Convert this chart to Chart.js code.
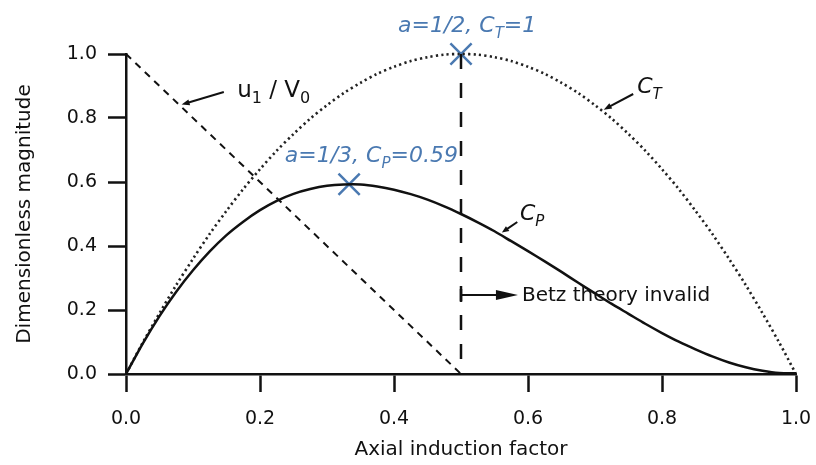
<!DOCTYPE html>
<html>
<head>
<meta charset="utf-8">
<script src="https://cdn.jsdelivr.net/npm/chart.js@4.4.1/dist/chart.umd.min.js"></script>
<style>
  html, body { margin: 0; background: #fff; }
</style>
</head>
<body>
<canvas id="chartBetz" width="816" height="465"></canvas>
<script>
// ── Datos ────────────────────────────────────────────────────
const factorA = [0, 0.025, 0.05, 0.075, 0.1, 0.125, 0.15, 0.175, 0.2, 0.225,
                 0.25, 0.275, 0.3, 0.325, 0.35, 0.375, 0.4, 0.425, 0.45, 0.475,
                 0.5, 0.525, 0.55, 0.575, 0.6, 0.625, 0.65, 0.675, 0.7, 0.725,
                 0.75, 0.775, 0.8, 0.825, 0.85, 0.875, 0.9, 0.925, 0.95, 0.975, 1.0];
const valoresCP = [0, 0.095, 0.181, 0.257, 0.324, 0.383, 0.434, 0.476, 0.512, 0.541,
                   0.563, 0.578, 0.588, 0.592, 0.592, 0.586, 0.576, 0.562, 0.545, 0.524,
                   0.5, 0.474, 0.446, 0.415, 0.384, 0.352, 0.319, 0.285, 0.252, 0.219,
                   0.188, 0.157, 0.128, 0.101, 0.077, 0.055, 0.036, 0.021, 0.01, 0.003, 0.002];
const valoresCT = [0, 0.098, 0.19, 0.278, 0.36, 0.438, 0.51, 0.578, 0.64, 0.698,
                   0.75, 0.798, 0.84, 0.878, 0.91, 0.938, 0.96, 0.978, 0.99, 0.998,
                   1.0, 0.998, 0.99, 0.978, 0.96, 0.938, 0.91, 0.878, 0.84, 0.798,
                   0.75, 0.698, 0.64, 0.578, 0.51, 0.438, 0.36, 0.278, 0.19, 0.098, 0];
const factorU1  = [0, 0.5];
const valoresU1 = [1.0, 0.0];
const limiteA   = [0.5, 0.5];
const limiteVal = [1.0, 0.02];
const marcasA   = [0.5, 0.333];
const marcasVal = [1.0, 0.593];
const ticksX = [0, 0.2, 0.4, 0.6, 0.8, 1.0];
const ticksY = [0, 0.2, 0.4, 0.6, 0.8, 1.0];

const AZUL = '#4a79b1';
const FUENTE = "'DejaVu Sans', sans-serif";

const puntos = (xs, ys) => xs.map((x, i) => ({ x, y: ys[i] }));

// ── Anotaciones (en unidades de datos) ───────────────────────
const textos = [
  { x: 0.166, y: 0.866, size: 23, color: '#111', italic: false,
    partes: [['u', 0], ['1', 1], [' / ', 0], ['V', 0], ['0', 1]] },
  { x: 0.763, y: 0.878, size: 22, color: '#111', italic: true,
    partes: [['C', 0], ['T', 1]] },
  { x: 0.588, y: 0.481, size: 22, color: '#111', italic: true,
    partes: [['C', 0], ['P', 1]] },
  { x: 0.591, y: 0.228, size: 20, color: '#111', italic: false,
    partes: [['Betz theory invalid', 0]] },
  { x: 0.406, y: 1.069, size: 22, color: AZUL, italic: true,
    partes: [['a=1/2, C', 0], ['T', 1], ['=1', 0]] },
  { x: 0.237, y: 0.663, size: 22, color: AZUL, italic: true,
    partes: [['a=1/3, C', 0], ['P', 1], ['=0.59', 0]] }
];
const flechas = [
  { desde: [0.146, 0.881], hasta: [0.083, 0.842], largo: 8, ancho: 3 },
  { desde: [0.757, 0.875], hasta: [0.713, 0.826], largo: 8, ancho: 3 },
  { desde: [0.584, 0.475], hasta: [0.561, 0.442], largo: 7, ancho: 3 },
  { desde: [0.5, 0.247],   hasta: [0.585, 0.247], largo: 22, ancho: 5 }
];

const pluginAnotaciones = {
  id: 'anotaciones',
  afterDatasetsDraw(chart) {
    const { ctx, scales: { x, y } } = chart;
    ctx.save();
    // flechas
    flechas.forEach(f => {
      const x1 = x.getPixelForValue(f.desde[0]), y1 = y.getPixelForValue(f.desde[1]);
      const x2 = x.getPixelForValue(f.hasta[0]), y2 = y.getPixelForValue(f.hasta[1]);
      const ang = Math.atan2(y2 - y1, x2 - x1);
      ctx.strokeStyle = '#111';
      ctx.fillStyle = '#111';
      ctx.lineWidth = 2;
      ctx.beginPath();
      ctx.moveTo(x1, y1);
      ctx.lineTo(x2 - Math.cos(ang) * f.largo * 0.8, y2 - Math.sin(ang) * f.largo * 0.8);
      ctx.stroke();
      ctx.beginPath();
      ctx.moveTo(x2, y2);
      ctx.lineTo(x2 - Math.cos(ang) * f.largo - Math.sin(ang) * f.ancho,
                 y2 - Math.sin(ang) * f.largo + Math.cos(ang) * f.ancho);
      ctx.lineTo(x2 - Math.cos(ang) * f.largo + Math.sin(ang) * f.ancho,
                 y2 - Math.sin(ang) * f.largo - Math.cos(ang) * f.ancho);
      ctx.closePath();
      ctx.fill();
    });
    // tope vertical de la flecha de Betz
    const bx = x.getPixelForValue(0.5), by = y.getPixelForValue(0.247);
    ctx.lineWidth = 2.5;
    ctx.beginPath();
    ctx.moveTo(bx, by - 6);
    ctx.lineTo(bx, by + 7);
    ctx.stroke();

    // textos con subíndices
    ctx.textBaseline = 'alphabetic';
    ctx.textAlign = 'left';
    textos.forEach(t => {
      let px = x.getPixelForValue(t.x);
      const py = y.getPixelForValue(t.y);
      const estilo = t.italic ? 'italic ' : '';
      ctx.fillStyle = t.color;
      t.partes.forEach(([txt, sub]) => {
        const tam = sub ? Math.round(t.size * 0.68) : t.size;
        ctx.font = `${estilo}${tam}px ${FUENTE}`;
        ctx.fillText(txt, px, sub ? py + t.size * 0.28 : py);
        px += ctx.measureText(txt).width;
      });
    });
    ctx.restore();
  }
};

// ── Gráfico ──────────────────────────────────────────────────
const ejeComun = {
  border: { display: true, color: '#111', width: 2.5 },
  grid: { display: true, drawOnChartArea: false, drawTicks: true,
          tickLength: 18, tickWidth: 2.5, tickColor: '#111' }
};

new Chart(document.getElementById('chartBetz').getContext('2d'), {
  type: 'scatter',
  data: {
    datasets: [
      {
        label: 'CP', data: puntos(factorA, valoresCP), showLine: true,
        borderColor: '#111', borderWidth: 2.5, pointRadius: 0, tension: 0.3, clip: false
      },
      {
        label: 'CT', data: puntos(factorA, valoresCT), showLine: true,
        borderColor: '#222', borderWidth: 2.6, borderDash: [2.2, 3.2],
        pointRadius: 0, tension: 0.3, clip: false
      },
      {
        label: 'u1/V0', data: puntos(factorU1, valoresU1), showLine: true,
        borderColor: '#111', borderWidth: 2, borderDash: [7, 6],
        pointRadius: 0, clip: false
      },
      {
        label: 'limite', data: puntos(limiteA, limiteVal), showLine: true,
        borderColor: '#111', borderWidth: 2.5, borderDash: [15, 14],
        pointRadius: 0, clip: false
      },
      {
        label: 'marcas', data: puntos(marcasA, marcasVal), showLine: false,
        pointStyle: 'crossRot', pointRadius: 15, borderColor: AZUL,
        borderWidth: 2.5, clip: false
      }
    ]
  },
  options: {
    responsive: false,
    animation: false,
    layout: { padding: { top: 54, right: 20, left: 0, bottom: 0 } },
    plugins: { legend: { display: false }, tooltip: { enabled: false } },
    scales: {
      x: {
        ...ejeComun,
        type: 'linear', min: 0, max: 1,
        afterFit: s => { s.height = 91; s.paddingLeft = 0; s.paddingRight = 0; },
        afterBuildTicks: s => { s.ticks = ticksX.map(v => ({ value: v })); },
        ticks: {
          color: '#111', padding: 16, maxRotation: 0,
          font: { family: FUENTE, size: 19 },
          callback: v => Number(v).toFixed(1)
        },
        title: {
          display: true, text: 'Axial induction factor', color: '#111',
          font: { family: FUENTE, size: 20 }, padding: { bottom: 3 }
        }
      },
      y: {
        ...ejeComun,
        type: 'linear', min: 0, max: 1,
        afterFit: s => { s.width = 126; s.paddingTop = 0; s.paddingBottom = 0; },
        afterBuildTicks: s => { s.ticks = ticksY.map(v => ({ value: v })); },
        ticks: {
          color: '#111', padding: 11,
          font: { family: FUENTE, size: 19 },
          callback: v => Number(v).toFixed(1)
        },
        title: {
          display: true, text: 'Dimensionless magnitude', color: '#111',
          font: { family: FUENTE, size: 20 }, padding: { top: 13 }
        }
      }
    }
  },
  plugins: [pluginAnotaciones]
});
</script>
</body>
</html>
